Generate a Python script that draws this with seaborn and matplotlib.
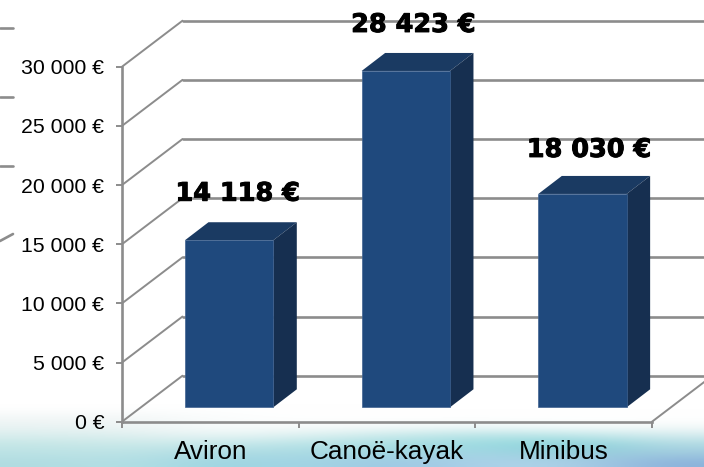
import matplotlib
matplotlib.use('Agg')
import matplotlib.pyplot as plt
import matplotlib.patheffects as pe
import numpy as np
import pandas as pd
import seaborn as sns
from matplotlib.colors import to_rgb
from matplotlib.patches import Polygon
from matplotlib.transforms import Affine2D, IdentityTransform

categories = ['Aviron', 'Canoë-kayak', 'Minibus']
amounts = [14118, 28423, 18030]
amount_labels = ['14 118 €', '28 423 €', '18 030 €']
y_ticks = [0, 5000, 10000, 15000, 20000, 25000, 30000]
y_tick_labels = ['0 €', '5 000 €', '10 000 €', '15 000 €', '20 000 €', '25 000 €', '30 000 €']

# water strip along the bottom, colours (y 404 to 467)
water = [
    ['#ffffff', '#ffffff', '#ffffff', '#ffffff', '#ffffff', '#ffffff', '#ffffff', '#ffffff'],
    ['#f3f7f7', '#f3f7f7', '#fbfdfd', '#ffffff', '#ffffff', '#ffffff', '#ffffff', '#ffffff'],
    ['#eaf3f3', '#eef5f5', '#fafcfc', '#f8fbfb', '#f6fafa', '#f0f8f8', '#f8fcfc', '#f6fafa'],
    ['#d9eeee', '#deefef', '#e8f5f5', '#dcf0f0', '#c8e9ea', '#b6e3e6', '#bce6e8', '#d4ebee'],
    ['#c4e6e6', '#cbe9e9', '#c4e7ea', '#b8e3e7', '#a6dee3', '#9cdbe1', '#84d2d9', '#b0dae3'],
    ['#bbe2e5', '#bce3e6', '#acdbe3', '#aadae3', '#a0d6e1', '#a6d6e5', '#94cedb', '#a0cadf'],
    ['#b0dce1', '#b4e0e5', '#9bd4e1', '#a4d6e5', '#9cc6e3', '#acd2e9', '#acd2e7', '#8bb2db'],
]

W, H = 704, 467
GREY = '#8c8c8c'
FRONT, TOP, SIDE = '#1f497d', '#1a3a62', '#162f50'
WALL_DX, WALL_DY = 60.5, 46      # depth of the chart box, pixels
BAR_DX, BAR_DY = 18.8, 14.4      # bars stand inside the box
DEPTH_X, DEPTH_Y = 23.5, 18      # depth of one bar
LABEL_DX = [8.5, 7.5, 6.5]
LABEL_DY = [46.5, 46, 44]

sns.set_theme(style='white')
plt.rcParams['font.family'] = ['Liberation Sans', 'DejaVu Sans']

fig = plt.figure(figsize=(W / 100, H / 100), dpi=100, facecolor='white')

# background
bg = fig.add_axes([0, 0, 1, 1], zorder=0)
bg.imshow([[to_rgb(c) for c in row] for row in water], extent=(0, W, 0, 63),
          aspect='auto', interpolation='bicubic', origin='upper')
bg.set_xlim(0, W)
bg.set_ylim(0, H)
bg.axis('off')

ax = fig.add_axes([122 / W, (H - 421.7) / H, 530 / W, 355 / H], zorder=1)
ax.patch.set_alpha(0)

df = pd.DataFrame({'category': categories, 'amount': amounts})
sns.barplot(data=df, x='category', y='amount', color=FRONT, saturation=1, width=0.5,
            edgecolor='#3f6290', linewidth=0.5, ax=ax, zorder=5)
ax.set_xlim(-0.5, 2.5)
ax.set_ylim(0, 30000)
ax.set_xlabel('')
ax.set_ylabel('')

# back wall, side wall and floor
for i, v in enumerate(y_ticks):
    x0, y0 = ax.transData.transform((-0.5, v))
    ax.plot([x0, x0 + WALL_DX], [y0, y0 + WALL_DY], color=GREY, lw=1.4,
            transform=IdentityTransform(), clip_on=False, zorder=2)
    ax.plot([x0 + WALL_DX, W + 2], [y0 + WALL_DY, y0 + WALL_DY], color=GREY, lw=1.9,
            transform=IdentityTransform(), clip_on=False, zorder=2)
x1, y1 = ax.transData.transform((2.5, 0))
ax.plot([x1, x1 + WALL_DX], [y1, y1 + WALL_DY], color=GREY, lw=1.4,
        transform=IdentityTransform(), clip_on=False, zorder=2)

# scraps of another chart left on the slide edge
for y in [H - 28, H - 97, H - 166]:
    ax.plot([0, 13], [y, y], color=GREY, lw=1.9, transform=IdentityTransform(), clip_on=False)
ax.plot([0, 13], [H - 241, H - 234], color=GREY, lw=1.9, transform=IdentityTransform(), clip_on=False)

# extrude the bars
shift = Affine2D().translate(BAR_DX, BAR_DY)
for bar in ax.patches:
    (xa, ya), (xb, yb) = ax.transData.transform([(bar.get_x(), 0), (bar.get_x() + bar.get_width(), bar.get_height())])
    xa, ya, xb, yb = xa + BAR_DX, ya + BAR_DY, xb + BAR_DX, yb + BAR_DY
    top = [(xa, yb), (xb, yb), (xb + DEPTH_X, yb + DEPTH_Y), (xa + DEPTH_X, yb + DEPTH_Y)]
    side = [(xb, ya), (xb + DEPTH_X, ya + DEPTH_Y), (xb + DEPTH_X, yb + DEPTH_Y), (xb, yb)]
    ax.add_patch(Polygon(top, color=TOP, lw=0, transform=IdentityTransform(), clip_on=False, zorder=4))
    ax.add_patch(Polygon(side, color=SIDE, lw=0, transform=IdentityTransform(), clip_on=False, zorder=4))
    bar.set_transform(ax.transData + shift)
    bar.set_clip_on(False)

for i, v in enumerate(amounts):
    ax.annotate(amount_labels[i], xy=(i, v), xytext=(BAR_DX + LABEL_DX[i], BAR_DY + LABEL_DY[i]),
                textcoords='offset pixels', ha='center', va='center', fontsize=18.4,
                fontweight='bold', family='DejaVu Sans', color='black', zorder=8, annotation_clip=False,
                path_effects=[pe.withStroke(linewidth=0.7, foreground='black')])

# axes
sns.despine(ax=ax, top=True, right=True)
for name in ['left', 'bottom']:
    ax.spines[name].set_color(GREY)
    ax.spines[name].set_linewidth(1.9)
ax.set_yticks(y_ticks, y_tick_labels)
ax.tick_params(axis='y', length=4.3, width=1.4, color=GREY, pad=8.5, labelsize=15.3, labelcolor='black', left=True)
ax.set_xticks([-0.5, 0.5, 1.5, 2.5], minor=True)
ax.tick_params(axis='x', which='minor', length=4.5, width=1.4, color=GREY, bottom=True)
ax.tick_params(axis='x', which='major', length=0, pad=13.5, labelsize=18.8, labelcolor='black')

fig.savefig('out.png', dpi=100)
